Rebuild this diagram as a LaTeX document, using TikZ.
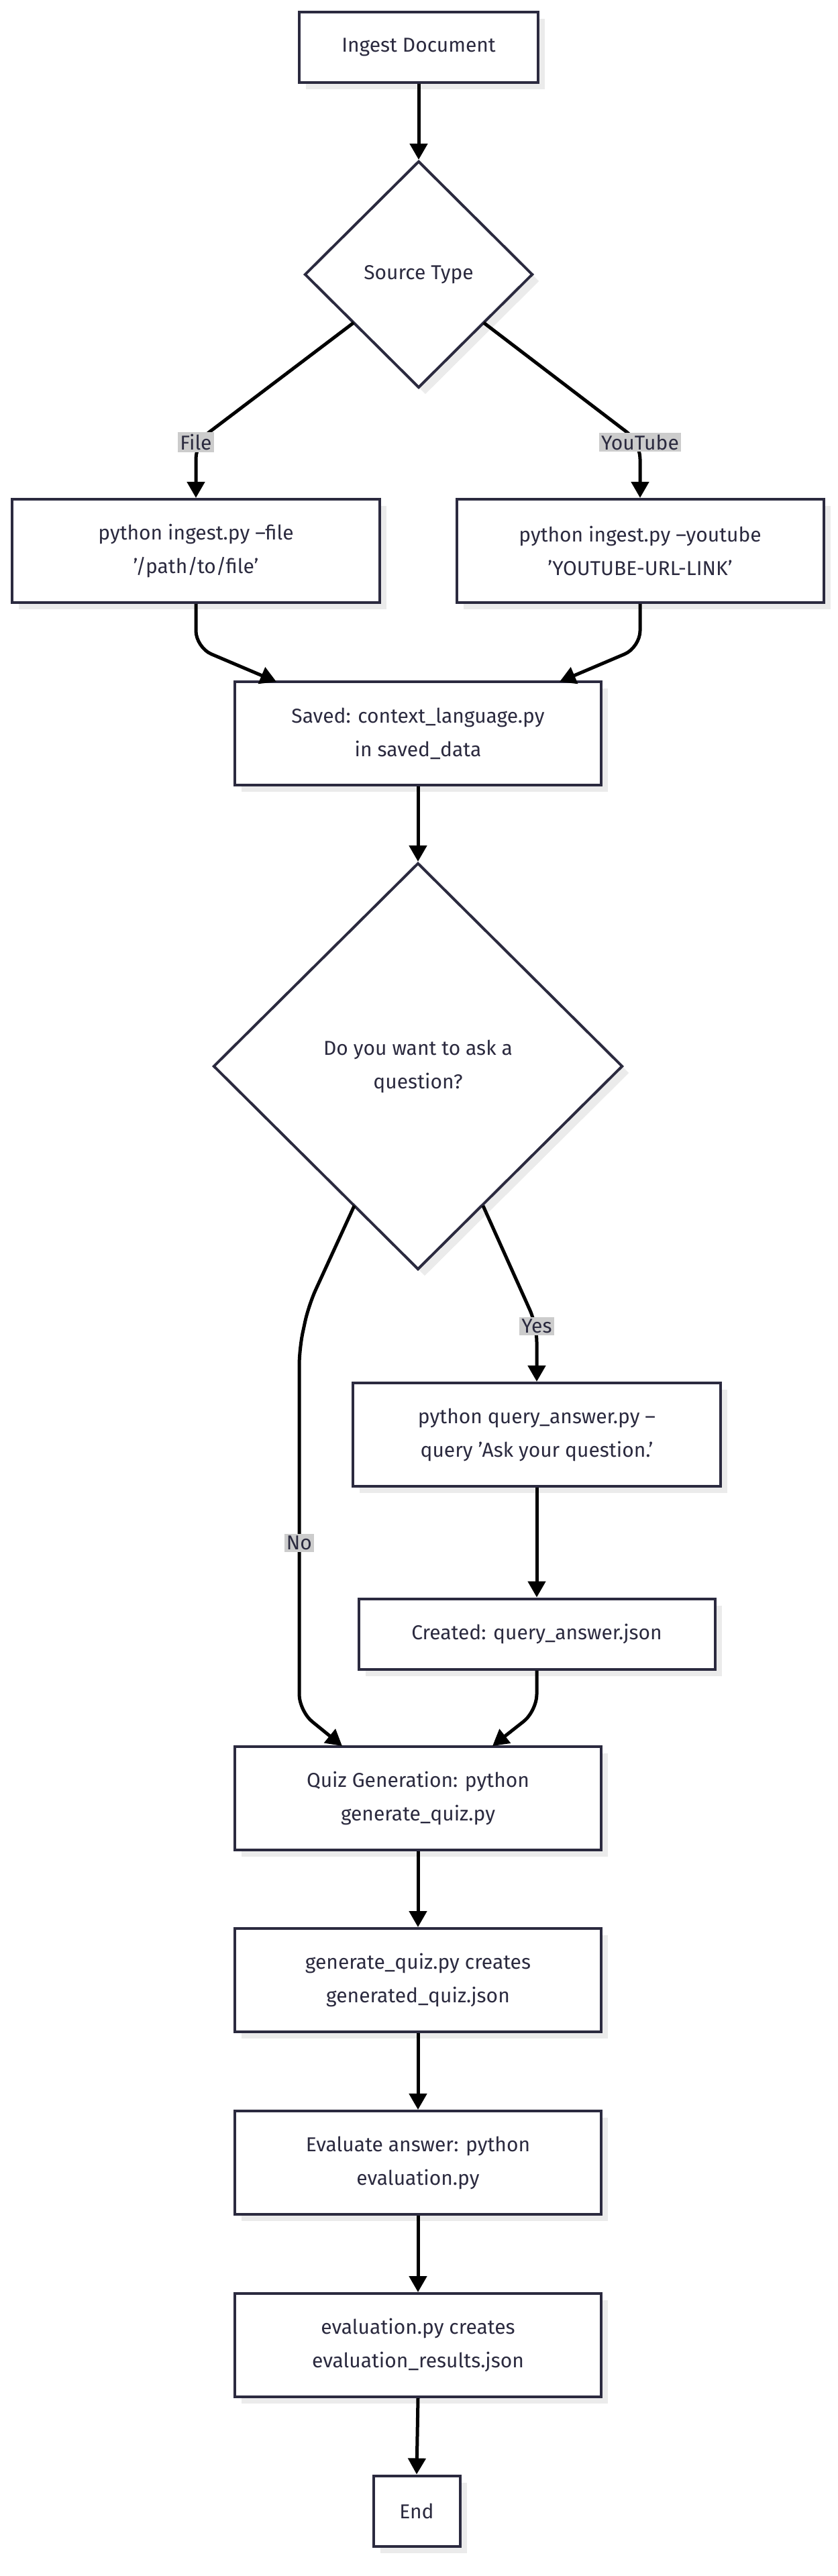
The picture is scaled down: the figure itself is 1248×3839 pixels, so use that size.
\documentclass[tikz,border=0pt]{standalone}
\usepackage{fontspec}
\setmainfont{Fira Sans}
\usetikzlibrary{shapes.geometric,arrows.meta,shadows}
\definecolor{ink}{HTML}{2B2A3F}
\definecolor{lbl}{HTML}{CCCCCC}
\begin{document}
\begin{tikzpicture}[x=1pt,y=-1pt,
  every node/.style={font=\fontsize{30}{50}\selectfont, text=ink, align=center},
  box/.style={draw=ink, line width=4pt, fill=white, inner sep=0pt,
    drop shadow={shadow xshift=10pt, shadow yshift=-10pt, fill=black!8, opacity=1}},
  dia/.style={diamond, draw=ink, line width=4pt, fill=white, inner sep=0pt,
    drop shadow={shadow xshift=10pt, shadow yshift=-10pt, fill=black!8, opacity=1}},
  lab/.style={fill=lbl, inner sep=3pt},
  conn/.style={draw=black, line width=5pt, rounded corners=25pt},
  arr/.style={conn, -{Triangle[length=24pt,width=26pt]}}]
\useasboundingbox (0,0) rectangle (1248,3839);
\fill[white] (0,0) rectangle (1248,3839);
\node[box, minimum width=356pt, minimum height=105pt] (ingest) at (624,70) {Ingest Document};
\node[dia, minimum width=340pt, minimum height=338pt] (src) at (624,409) {Source Type};
\node[box, minimum width=548pt, minimum height=154pt] (file) at (292,821) {python ingest.py --file\\'/path/to/file'};
\node[box, minimum width=547pt, minimum height=154pt] (yt) at (954,821) {python ingest.py --youtube\\'YOUTUBE-URL-LINK'};
\node[box, minimum width=546pt, minimum height=154pt] (saved) at (623,1093) {Saved: context\_language.py\\in saved\_data};
\node[dia, minimum width=610pt, minimum height=606pt] (q) at (623,1589) {Do you want to ask a\\question?};
\node[box, minimum width=548pt, minimum height=154pt] (query) at (800,2138) {python query\_answer.py --\\query 'Ask your question.'};
\node[box, minimum width=531pt, minimum height=105pt] (created) at (800,2435) {Created: query\_answer.json};
\node[box, minimum width=546pt, minimum height=154pt] (quiz) at (623,2680) {Quiz Generation: python\\generate\_quiz.py};
\node[box, minimum width=546pt, minimum height=154pt] (gen) at (623,2951) {generate\_quiz.py creates\\generated\_quiz.json};
\node[box, minimum width=546pt, minimum height=154pt] (eval) at (623,3223) {Evaluate answer: python\\evaluation.py};
\node[box, minimum width=546pt, minimum height=154pt] (res) at (623,3495) {evaluation.py creates\\evaluation\_results.json};
\node[box, minimum width=129pt, minimum height=105pt] (end) at (621,3742) {End};

\draw[arr] (ingest.south) -- (src.north);
\coordinate (fl) at (527,481);
\coordinate (yl) at (721,481);
\draw[arr] (fl) -- (292,659) -- (file.north);
\draw[arr] (yl) -- (954,659) -- (yt.north);
\node[lab] (lfile) at (292,659) {File};
\node[lab] (lyt) at (954,659) {YouTube};
\draw[arr] (file.south) -- (292,965) -- (412,1016);
\draw[arr] (yt.south) -- (954,965) -- (834,1016);
\draw[arr] (saved.south) -- (q.north);
\coordinate (ql) at (528,1797);
\coordinate (qr) at (720,1797);
\draw[arr] (qr) -- (800,1975) -- (query.north);
\node[lab] (lyes) at (800,1976) {Yes};
\draw[arr] (ql) -- (460,1945) -- (446,2010) -- (446,2550) -- (510,2602);
\node[lab] (lno) at (446,2299) {No};
\draw[arr] (query.south) -- (created.north);
\draw[arr] (created.south) -- (800,2550) -- (734,2602);
\draw[arr] (quiz.south) -- (gen.north);
\draw[arr] (gen.south) -- (eval.north);
\draw[arr] (eval.south) -- (res.north);
\draw[arr] (res.south) -- (end.north);
\end{tikzpicture}
\end{document}
